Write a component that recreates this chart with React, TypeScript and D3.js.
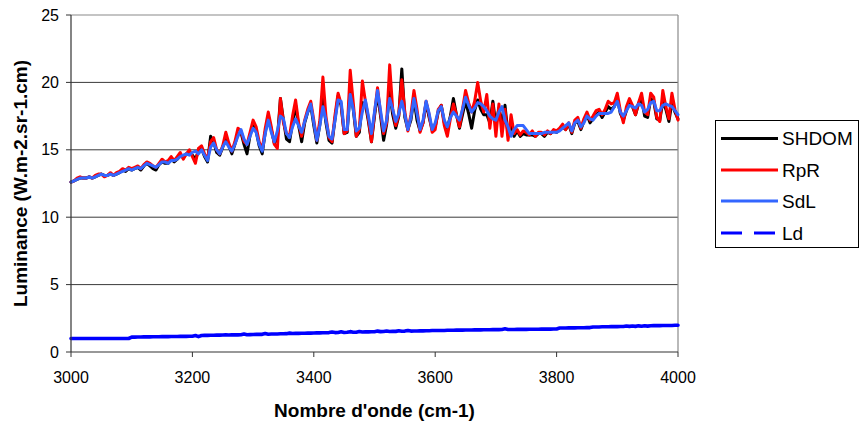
import React from "react";
import * as d3 from "d3";

// Wavenumber sampling grid (cm-1), one value every 5 cm-1 from 3000 to 4000
const wavenumbers: number[] = d3.range(3000, 4001, 5);

const shdom: number[] = [
  12.6, 12.7, 12.8, 12.9, 12.9, 12.9, 13.0, 12.9, 13.0, 13.1, 13.2, 13.1, 13.1, 13.2, 13.1, 13.2, 13.3, 13.5, 13.4, 13.6,
  13.5, 13.6, 13.7, 13.5, 13.8, 14.0, 13.8, 13.6, 13.5, 13.9, 14.1, 14.0, 14.0, 14.3, 14.1, 14.3, 14.6, 14.4, 14.7, 14.8,
  14.6, 14.3, 14.9, 15.1, 14.5, 14.1, 16.0, 15.6, 14.8, 14.6, 15.2, 15.9, 15.3, 14.7, 15.4, 16.2, 16.3, 15.4, 14.7, 16.1,
  16.9, 16.4, 15.3, 14.7, 16.3, 17.5, 16.5, 15.5, 15.8, 18.8, 17.2, 15.8, 15.6, 17.0, 18.3, 16.8, 15.6, 17.0, 17.8, 18.3,
  16.8, 15.5, 16.9, 18.8, 17.0, 15.7, 15.5, 17.3, 19.0, 18.3, 16.2, 16.3, 19.6, 18.0, 16.0, 16.3, 18.5, 18.4, 17.1, 15.6,
  17.5, 19.2, 17.5, 15.7, 16.9, 19.3, 17.6, 16.6, 17.5, 21.0, 17.4, 16.5, 17.2, 18.8, 17.2, 16.4, 17.0, 18.5, 17.4, 16.5,
  16.7, 17.8, 18.3, 17.0, 16.6, 17.5, 18.8, 17.6, 16.6, 17.6, 18.6, 17.7, 16.6, 17.9, 18.7, 18.0, 17.6, 17.6, 17.0, 18.6,
  16.8, 18.1, 17.0, 18.3, 16.1, 17.0, 16.0, 16.4, 16.0, 16.2, 16.1, 16.1, 16.1, 16.0, 16.2, 16.2, 16.0, 16.3, 16.2, 16.4,
  16.3, 16.5, 16.7, 16.5, 16.9, 16.2, 17.0, 17.1, 16.5, 17.1, 17.6, 17.0, 17.3, 17.6, 17.8, 17.4, 17.8, 18.2, 18.0, 18.2,
  18.8, 17.7, 17.2, 17.9, 18.6, 18.2, 17.6, 18.4, 18.9, 17.5, 17.4, 18.8, 18.6, 17.3, 17.2, 18.6, 18.0, 17.1, 18.5, 17.8,
  17.3,
];

const rpr: number[] = [
  12.6, 12.7, 12.9, 13.0, 12.9, 12.9, 13.0, 12.9, 13.1, 13.2, 13.2, 13.0, 13.1, 13.3, 13.1, 13.3, 13.4, 13.6, 13.5, 13.7,
  13.6, 13.7, 13.8, 13.6, 13.9, 14.1, 14.0, 13.8, 13.7, 14.0, 14.3, 14.1, 14.2, 14.5, 14.2, 14.5, 14.8, 14.3, 14.7, 15.0,
  14.5, 14.0, 15.1, 15.3, 14.7, 14.3, 15.6, 15.9, 15.0, 14.7, 15.3, 16.3, 15.5, 14.9, 15.6, 16.6, 16.4, 15.6, 15.4, 16.3,
  17.2, 16.7, 15.6, 15.0, 16.6, 17.8, 16.7, 15.4, 15.1, 18.8, 17.0, 16.2, 16.0, 17.5, 18.7, 17.0, 16.0, 17.2, 18.0, 18.6,
  17.2, 15.7, 17.2, 20.4, 17.5, 15.9, 15.6, 17.6, 19.2, 18.4, 16.2, 16.4, 20.9, 18.5, 16.0, 16.5, 20.1, 18.6, 17.3, 15.6,
  17.7, 19.6, 17.7, 16.2, 17.0, 21.3, 18.0, 16.8, 17.6, 20.2, 17.8, 16.4, 17.6, 19.4, 18.0, 16.3, 17.0, 18.6, 17.6, 16.3,
  16.5, 18.0, 18.3, 16.8, 16.0, 17.3, 18.4, 17.6, 16.7, 18.0, 19.4, 18.5, 17.8, 18.6, 20.0, 18.6, 17.8, 19.1, 16.6, 18.4,
  16.0, 18.4, 16.0, 18.0, 15.7, 17.6, 16.2, 16.5, 16.1, 16.4, 16.3, 16.1, 16.4, 16.0, 16.3, 16.3, 16.1, 16.4, 16.2, 16.5,
  16.4, 16.6, 16.9, 16.5, 17.0, 16.3, 17.2, 17.4, 16.6, 17.3, 17.8, 17.2, 17.5, 17.9, 18.0, 17.6, 18.0, 18.6, 18.4, 18.5,
  19.2, 17.9, 17.0, 18.2, 18.8, 18.3, 17.6, 18.5, 19.2, 17.8, 17.6, 19.2, 18.9, 17.4, 17.1, 19.4, 18.2, 17.3, 19.2, 18.0,
  17.2,
];

const sdl: number[] = [
  12.6, 12.7, 12.8, 12.9, 12.9, 12.9, 13.0, 12.9, 13.0, 13.1, 13.2, 13.1, 13.1, 13.2, 13.1, 13.2, 13.3, 13.4, 13.5, 13.6,
  13.5, 13.6, 13.7, 13.6, 13.8, 14.0, 13.9, 13.8, 13.7, 13.9, 14.1, 14.1, 14.0, 14.2, 14.2, 14.3, 14.5, 14.6, 14.7, 14.6,
  14.8, 14.9, 14.7, 15.0, 14.6, 14.2, 15.2, 15.5, 15.0, 14.7, 15.2, 15.6, 15.2, 14.9, 15.4, 16.0, 16.5, 15.8, 15.4, 16.0,
  16.6, 16.3, 15.4, 14.9, 16.2, 17.2, 16.3, 15.6, 16.4, 17.5, 17.3, 16.2, 15.9, 16.7, 17.3, 16.8, 16.3, 17.1, 17.8, 18.4,
  17.0, 15.7, 16.8, 18.2, 17.2, 16.0, 15.8, 17.2, 18.7, 18.6, 16.5, 16.5, 19.1, 18.0, 16.4, 16.6, 17.8, 18.7, 17.5, 16.2,
  17.8, 19.4, 17.9, 16.4, 17.2, 18.8, 18.0, 17.1, 17.7, 18.6, 17.6, 16.5, 17.4, 18.8, 17.7, 16.5, 17.2, 18.6, 17.7, 16.5,
  17.0, 17.9, 18.2, 17.2, 16.7, 17.4, 17.8, 17.5, 17.2, 18.0, 18.9, 18.3, 17.8, 18.1, 18.5, 18.4, 18.2, 17.9, 17.5, 17.3,
  17.2, 17.8, 18.2, 17.2, 16.7, 16.0, 16.5, 16.8, 16.8, 16.8, 16.5, 16.2, 16.2, 16.2, 16.2, 16.2, 16.3, 16.3, 16.3, 16.3,
  16.3, 16.4, 16.6, 16.8, 17.0, 16.4, 17.0, 17.2, 16.7, 17.0, 17.5, 17.3, 17.2, 17.5, 17.7, 17.7, 17.7, 17.7, 17.8, 18.2,
  18.6, 17.8, 17.5, 17.9, 18.3, 18.2, 18.1, 18.4, 18.3, 17.8, 18.0, 18.5, 18.6, 17.9, 17.9, 18.3, 18.4, 18.3, 18.2, 17.9,
  17.6,
];

const ld: number[] = [
  1.0, 1.0, 1.0, 1.0, 1.0, 1.0, 1.0, 1.0, 1.0, 1.0, 1.0, 1.0, 1.0, 1.0, 1.0, 1.0, 1.0, 1.0, 1.0, 1.0,
  1.1, 1.1, 1.11, 1.11, 1.12, 1.12, 1.12, 1.13, 1.13, 1.13, 1.14, 1.14, 1.14, 1.15, 1.15, 1.15, 1.16, 1.16, 1.16, 1.17, 1.17,
  1.22, 1.14, 1.22, 1.23, 1.23, 1.24, 1.24, 1.25, 1.25, 1.26, 1.27, 1.26, 1.27, 1.28, 1.27, 1.28, 1.33, 1.28, 1.29, 1.3,
  1.31, 1.31, 1.31, 1.37, 1.32, 1.33, 1.34, 1.34, 1.35, 1.35, 1.36, 1.4, 1.37, 1.38, 1.38, 1.39, 1.39, 1.4, 1.4, 1.41,
  1.42, 1.42, 1.43, 1.43, 1.44, 1.48, 1.44, 1.45, 1.5, 1.45, 1.46, 1.51, 1.47, 1.47, 1.52, 1.48, 1.49, 1.49, 1.5, 1.5,
  1.55, 1.51, 1.52, 1.56, 1.52, 1.53, 1.53, 1.58, 1.54, 1.55, 1.6, 1.55, 1.56, 1.56, 1.57, 1.57, 1.58, 1.58, 1.59, 1.59,
  1.6, 1.6, 1.6, 1.61, 1.61, 1.61, 1.62, 1.62, 1.62, 1.63, 1.63, 1.63, 1.64, 1.64, 1.64, 1.65, 1.65, 1.65, 1.66, 1.66,
  1.66, 1.67, 1.72, 1.67, 1.67, 1.67, 1.68, 1.68, 1.68, 1.68, 1.69, 1.69, 1.69, 1.69, 1.7, 1.7, 1.7, 1.7, 1.71, 1.71,
  1.78, 1.78, 1.78, 1.79, 1.79, 1.79, 1.8, 1.8, 1.8, 1.81, 1.81, 1.86, 1.86, 1.86, 1.87, 1.87, 1.87, 1.88, 1.88, 1.88,
  1.89, 1.89, 1.93, 1.9, 1.93, 1.9, 1.94, 1.91, 1.95, 1.92, 1.95, 1.96, 1.96, 1.96, 1.97, 1.97, 1.97, 1.97, 1.98, 1.98,
];

const xTicks: number[] = [3000, 3200, 3400, 3600, 3800, 4000];
const yTicks: number[] = [0, 5, 10, 15, 20, 25];

const seriesNames: string[] = ["SHDOM", "RpR", "SdL", "Ld"];
const seriesColors: string[] = ["#000000", "#ff0000", "#3366ff", "#0000ff"];

const xTitle = "Nombre d'onde (cm-1)";
const yTitle = "Luminance (W.m-2.sr-1.cm)";

const W = 859;
const H = 423;
const FONT = "'Liberation Sans', Arial, sans-serif";

export default function App() {
  const left = 71;
  const right = 678;
  const top = 15;
  const bottom = 352;

  const x = d3.scaleLinear().domain([3000, 4000]).range([left, right]);
  const y = d3.scaleLinear().domain([0, 25]).range([bottom, top]);

  const allSeries = [shdom, rpr, sdl, ld];
  const line = d3
    .line<number>()
    .x((_, i) => x(wavenumbers[i]))
    .y((d) => y(d));

  const legendRows = [138.5, 170, 201, 233];

  return (
    <div style={{ position: "absolute", left: 0, top: 0 }}>
      <svg width={W} height={H} style={{ display: "block", background: "#fff" }}>
        {/* horizontal gridlines */}
        {yTicks
          .filter((t) => t > 0 && t < 25)
          .map((t) => (
            <line key={"g" + t} x1={left} x2={right} y1={y(t)} y2={y(t)} stroke="#3a3a3a" strokeWidth={1} />
          ))}
        {/* plot border top/right */}
        <line x1={left} x2={right} y1={y(25)} y2={y(25)} stroke="#8a8a8a" strokeWidth={1.2} />
        <line x1={right} x2={right} y1={y(25)} y2={y(0)} stroke="#8a8a8a" strokeWidth={1.2} />

        {/* series */}
        {allSeries.map((s, i) => (
          <path
            key={seriesNames[i]}
            d={line(s) || ""}
            fill="none"
            stroke={seriesColors[i]}
            strokeWidth={i === 3 ? 3.6 : 3}
            strokeLinejoin="round"
            strokeLinecap="round"
          />
        ))}

        {/* axes */}
        <line x1={left} x2={left} y1={top} y2={bottom} stroke="#333" strokeWidth={1.2} />
        <line x1={left} x2={right} y1={bottom} y2={bottom} stroke="#333" strokeWidth={1.2} />
        {yTicks.map((t) => (
          <g key={"y" + t}>
            <line x1={left - 5} x2={left} y1={y(t)} y2={y(t)} stroke="#333" strokeWidth={1} />
            <text
              x={left - 12}
              y={y(t) + 5.5}
              textAnchor="end"
              fontFamily={FONT}
              fontSize={16}
              fill="#000"
            >
              {t}
            </text>
          </g>
        ))}
        {xTicks.map((t) => (
          <g key={"x" + t}>
            <line x1={x(t)} x2={x(t)} y1={bottom} y2={bottom + 5} stroke="#333" strokeWidth={1} />
            <text x={x(t)} y={383} textAnchor="middle" fontFamily={FONT} fontSize={16} fill="#000">
              {t}
            </text>
          </g>
        ))}

        {/* axis titles */}
        <text
          x={(left + right) / 2}
          y={417}
          textAnchor="middle"
          fontFamily={FONT}
          fontSize={19}
          fontWeight="bold"
          fill="#000"
        >
          {xTitle}
        </text>
        <text
          transform={`translate(27, ${(top + bottom) / 2}) rotate(-90)`}
          textAnchor="middle"
          fontFamily={FONT}
          fontSize={19}
          fontWeight="bold"
          fill="#000"
        >
          {yTitle}
        </text>

        {/* legend */}
        <rect x={715.5} y={120.5} width={143} height={127} fill="#fff" stroke="#000" strokeWidth={1} />
        {seriesNames.map((n, i) => (
          <g key={"l" + n}>
            <line
              x1={721}
              x2={778}
              y1={legendRows[i]}
              y2={legendRows[i]}
              stroke={seriesColors[i]}
              strokeWidth={3}
              strokeDasharray={i === 3 ? "21,12" : undefined}
            />
            <text x={782} y={legendRows[i] + 6.5} fontFamily={FONT} fontSize={19} fill="#000">
              {n}
            </text>
          </g>
        ))}
      </svg>
    </div>
  );
}
